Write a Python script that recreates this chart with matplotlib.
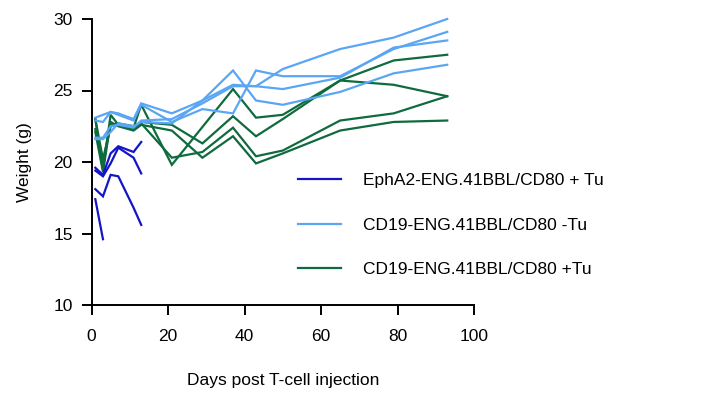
import numpy as np
import matplotlib
matplotlib.use("Agg")
import matplotlib.pyplot as plt
from matplotlib.lines import Line2D

nan = np.nan

# Days post T-cell injection
days = [1, 3, 5, 7, 11, 13, 21, 29, 37, 43, 50, 65, 79, 93]
epha2_days = [1, 3, 5, 7, 11, 13]

# EphA2-ENG.41BBL/CD80 + Tu (individual mice)
epha2_m1 = [17.4, 14.6, nan, nan, nan, nan]
epha2_m2 = [18.1, 17.6, 19.1, 19.0, 16.8, 15.6]
epha2_m3 = [19.6, 19.1, 20.6, 21.1, 20.7, 21.4]
epha2_m4 = [19.4, 19.0, 19.9, 21.0, 20.3, 19.2]

# CD19-ENG.41BBL/CD80 -Tu (individual mice)
cd19_notu_m1 = [23.1, 23.3, 23.5, 23.4, 23.0, 24.1, 23.4, 24.3, 25.4, 25.3, 26.5, 27.9, 28.7, 30.0]
cd19_notu_m2 = [22.9, 22.8, 23.5, 23.3, 22.9, 24.0, 22.8, 23.7, 23.4, 26.4, 26.0, 26.0, 27.9, 29.1]
cd19_notu_m3 = [21.7, 21.7, 22.5, 22.6, 22.4, 22.9, 23.0, 24.1, 25.3, 25.3, 25.1, 25.9, 28.0, 28.5]
cd19_notu_m4 = [21.6, 21.6, 22.1, 22.7, 22.5, 22.8, 22.7, 24.3, 26.4, 24.3, 24.0, 24.9, 26.2, 26.8]

# CD19-ENG.41BBL/CD80 +Tu (individual mice)
cd19_tu_m1 = [23.0, 19.5, 23.3, 22.6, 22.4, 24.0, 19.8, nan, 25.1, 23.1, 23.3, 25.7, 27.1, 27.5]
cd19_tu_m2 = [22.3, 19.9, 22.6, 22.7, 22.5, 22.7, 20.3, 20.7, 22.4, 20.4, 20.8, 22.9, 23.4, 24.6]
cd19_tu_m3 = [23.0, 20.2, 22.5, 22.6, 22.3, 22.8, 22.6, 21.3, 23.2, 21.8, 23.0, 25.7, 25.4, 24.6]
cd19_tu_m4 = [22.1, 19.3, 22.8, 22.5, 22.2, 22.6, 22.2, 20.3, 21.8, 19.9, 20.6, 22.2, 22.8, 22.9]

legend_labels = ["EphA2-ENG.41BBL/CD80 + Tu", "CD19-ENG.41BBL/CD80 -Tu", "CD19-ENG.41BBL/CD80 +Tu"]
x_ticks = [0, 20, 40, 60, 80, 100]
y_ticks = [10, 15, 20, 25, 30]

col_epha2 = "#1414c8"
col_notu = "#5aa6f4"
col_tu = "#0f6b3e"

plt.rcParams['font.family'] = ['Liberation Sans', 'DejaVu Sans']

fig = plt.figure(figsize=(7.13, 3.93), dpi=100)
ax = fig.add_axes([91.5 / 713, 1 - 305 / 393, (474 - 91.5) / 713, (305 - 19) / 393])

def draw(xs, ys, color):
    xs = np.asarray(xs, float)
    ys = np.asarray(ys, float)
    m = ~np.isnan(ys)
    ax.plot(xs[m], ys[m], color=color, lw=1.6, solid_joinstyle='miter', clip_on=False)

for s in [cd19_tu_m1, cd19_tu_m2, cd19_tu_m3, cd19_tu_m4]:
    draw(days, s, col_tu)
for s in [cd19_notu_m1, cd19_notu_m2, cd19_notu_m3, cd19_notu_m4]:
    draw(days, s, col_notu)
for s in [epha2_m1, epha2_m2, epha2_m3, epha2_m4]:
    draw(epha2_days, s, col_epha2)

ax.set_xlim(0, 100)
ax.set_ylim(10, 30)
ax.set_xticks(x_ticks)
ax.set_yticks(y_ticks)
for sp in ['top', 'right']:
    ax.spines[sp].set_visible(False)
for sp in ['left', 'bottom']:
    ax.spines[sp].set_linewidth(1.4)
ax.tick_params(axis='both', direction='out', length=7.5, width=1.4, labelsize=12.5, colors='black')
ax.tick_params(axis='x', pad=10)
ax.tick_params(axis='y', pad=6)

ax.set_xlabel("Days post T-cell injection", fontsize=12.5, labelpad=21)
ax.set_ylabel("Weight (g)", fontsize=12.5, labelpad=15)

handles = [Line2D([], [], color=c, lw=1.6) for c in [col_epha2, col_notu, col_tu]]
leg = fig.legend(handles, legend_labels, loc='upper left',
                 bbox_to_anchor=(298 / 713, 1 - 173 / 393),
                 frameon=False, fontsize=12.5, handlelength=2.5,
                 handletextpad=1.25, labelspacing=1.7, borderpad=0, borderaxespad=0)

fig.savefig("out.png", dpi=100)
